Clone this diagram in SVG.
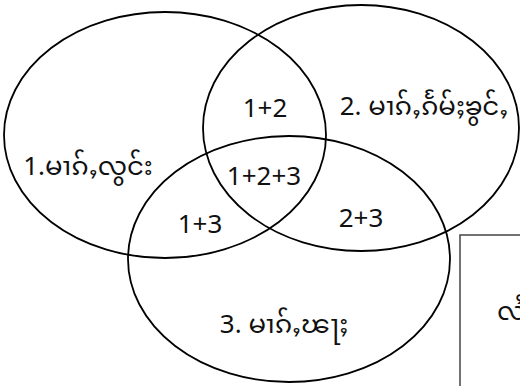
<svg xmlns="http://www.w3.org/2000/svg" width="520" height="386" viewBox="0 0 520 386">
<style>
.set{fill:none;stroke:#000;stroke-width:1.8}
.lbl{font-family:"Noto Sans","Noto Sans Myanmar","Padauk","Myanmar Text",sans-serif;font-size:26px;fill:#111;text-anchor:middle}
.box{fill:#fff;stroke:#444;stroke-width:1.5}
</style>
<rect width="520" height="386" fill="#fff"/>
<g id="set1"><ellipse class="set" cx="165" cy="135" rx="161" ry="123"/></g>
<g id="set2"><ellipse class="set" cx="361" cy="128" rx="158" ry="123"/></g>
<g id="set3"><ellipse class="set" cx="289" cy="259" rx="161" ry="123"/></g>
<g id="labels">
<text class="lbl" x="88" y="175">1.မၢၵ်ႇလွင်း</text>
<text class="lbl" x="265" y="117">1+2</text>
<text class="lbl" x="424" y="115">2. မၢၵ်ႇၵႅမ်ႈၶွင်ႇ</text>
<text class="lbl" x="264" y="185">1+2+3</text>
<text class="lbl" x="200" y="233">1+3</text>
<text class="lbl" x="361" y="227">2+3</text>
<text class="lbl" x="284" y="333">3. မၢၵ်ႇၽႃႈ</text>
</g>
<g id="legend">
<rect class="box" x="460" y="235" width="80" height="170"/>
<text class="lbl" x="497" y="320" style="text-anchor:start">လႆႈ</text>
</g>
<g id="connectors"></g>
</svg>
